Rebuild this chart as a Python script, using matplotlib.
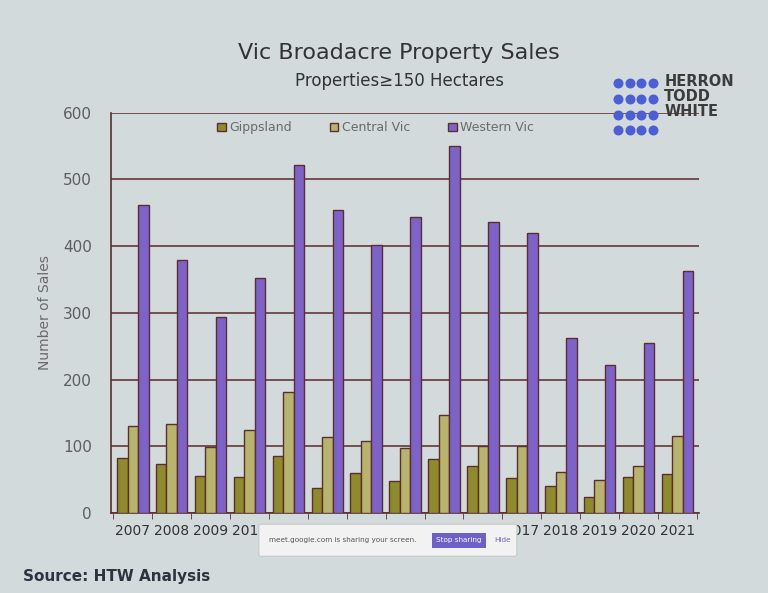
import numpy as np
import matplotlib.pyplot as plt
from matplotlib.patches import FancyBboxPatch

# values (perspective corrected by local gridlines)
years = ["2007", "2008", "2009", "2010", "2011", "2012", "2013", "2014",
         "2015", "2016", "2017", "2018", "2019", "2020", "2021"]
gippsland = [83, 73, 56, 54, 86, 38, 60, 48, 81, 71, 52, 41, 24, 54, 58]
central_vic = [130, 133, 99, 124, 181, 114, 108, 98, 147, 100, 100, 62, 50, 70, 115]
western_vic = [462, 379, 294, 352, 522, 454, 402, 443, 550, 436, 420, 262, 222, 254, 363]

series_names = ["Gippsland", "Central Vic", "Western Vic"]
series_colors = ["#8f8b2c", "#b9b46c", "#7c62c9"]
edge = "#5b2f2f"
bg = "#d2dadb"

fig = plt.figure(figsize=(7.68, 5.93), dpi=100, facecolor=bg)
ax = fig.add_axes([0.145, 0.135, 0.765, 0.675], facecolor=bg)

x = np.arange(len(years))
w = 0.27
for i, (vals, name, col) in enumerate(zip([gippsland, central_vic, western_vic],
                                          series_names, series_colors)):
    ax.bar(x + (i - 1) * w, vals, width=w, color=col, edgecolor=edge,
           linewidth=1.0, label=name, zorder=3)

ax.set_xlim(-0.55, len(years) - 0.45)
ax.set_ylim(0, 600)
ax.set_yticks(range(0, 601, 100))
ax.yaxis.grid(True, color="#6e4444", linewidth=1.3, zorder=1)
ax.tick_params(axis="y", length=0, labelsize=11, labelcolor="#5e5e5e", pad=14)

ax.set_xticks(x)
ax.set_xticklabels(years, fontsize=10, color="#333333")
ax.set_xticks(np.arange(-0.5, len(years), 1), minor=True)
ax.tick_params(axis="x", which="major", length=0, pad=8)
ax.tick_params(axis="x", which="minor", length=4, color=edge)

for s in ["top", "right"]:
    ax.spines[s].set_visible(False)
ax.spines["left"].set_color(edge)
ax.spines["bottom"].set_color(edge)
ax.spines["left"].set_linewidth(1.2)
ax.spines["bottom"].set_linewidth(1.2)

ax.set_ylabel("Number of Sales", fontsize=10, color="#6a6a6a", labelpad=8)

leg = ax.legend(loc="center", bbox_to_anchor=(0.45, 0.962), ncol=3,
                frameon=False, fontsize=9, handlelength=0.7, handleheight=0.7,
                columnspacing=3.0, handletextpad=0.3, borderpad=0.1)
for t in leg.get_texts():
    t.set_color("#6a6a6a")

fig.text(0.52, 0.9, "Vic Broadacre Property Sales", ha="center",
         fontsize=16, color="#333333")
fig.text(0.52, 0.855, "Properties\u2265150 Hectares", ha="center",
         fontsize=12, color="#333333")

# logo
fig.text(0.865, 0.875, "HERRON\nTODD\nWHITE", ha="left", va="top",
         fontsize=10.5, fontweight="bold", color="#3c3c3c", linespacing=1.0)
lax = fig.add_axes([0.795, 0.765, 0.065, 0.11])
gx, gy = np.meshgrid(np.arange(4), np.arange(4))
lax.scatter(gx.ravel(), gy.ravel(), s=38, color="#4a5fd6")
lax.set_xlim(-0.6, 3.6)
lax.set_ylim(-0.6, 3.6)
lax.axis("off")

fig.text(0.03, 0.02, "Source: HTW Analysis", fontsize=11, fontweight="bold",
         color="#2c3440")

# screen-sharing bar overlaying the axis labels
bar = FancyBboxPatch((0.34, 0.065), 0.33, 0.048, boxstyle="round,pad=0.003",
                     transform=fig.transFigure, facecolor="#f2f2f2",
                     edgecolor="#c8c8c8", linewidth=0.8, zorder=10)
fig.patches.append(bar)
fig.text(0.35, 0.089, "meet.google.com is sharing your screen.", fontsize=5.2,
         color="#555555", va="center", zorder=11)
fig.text(0.568, 0.089, "Stop sharing", fontsize=5.2, color="white", va="center",
         zorder=11, bbox=dict(boxstyle="square,pad=0.6", facecolor="#6f5fc8",
                              edgecolor="none"))
fig.text(0.643, 0.089, "Hide", fontsize=5.2, color="#6f5fc8", va="center",
         zorder=11)

fig.savefig("out.png", dpi=100, facecolor=bg)
